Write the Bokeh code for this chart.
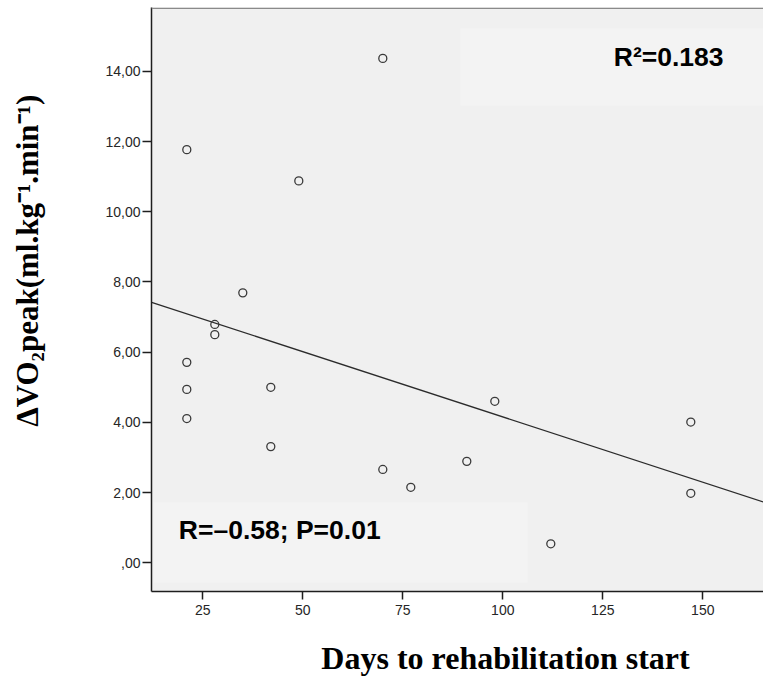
import math
from bokeh.plotting import figure
from bokeh.models import FixedTicker, Label, BoxAnnotation, Span, Range1d
from bokeh.embed import file_html
from bokeh.resources import INLINE

# ---- data ----
days = [21, 21, 21, 21, 28, 28, 35, 42, 42, 49, 70, 70, 77, 91, 98, 112, 147, 147]
delta_vo2 = [11.77, 5.71, 4.94, 4.11, 6.79, 6.50, 7.69, 5.00, 3.31, 10.88,
             14.37, 2.66, 2.15, 2.89, 4.60, 0.54, 4.01, 1.98]
fit_days = [12.2, 165.2]
fit_vo2 = [7.42, 1.73]
x_ticks = [25, 50, 75, 100, 125, 150]
y_ticks = [0, 2, 4, 6, 8, 10, 12, 14]
y_tick_labels = [",00", "2,00", "4,00", "6,00", "8,00", "10,00", "12,00", "14,00"]
r2_text = "R²=0.183"
r_text = "R=–0.58; P=0.01"
x_title = "Days to rehabilitation start"
y_title = "ΔVO₂peak(ml.kg⁻¹.min⁻¹)"

X0, X1 = 12.175, 165.175
Y0, Y1 = -0.818, 15.82
NBSP = "\u00a0"

p = figure(width=763, height=679, output_backend="svg", toolbar_location=None,
           x_range=Range1d(X0, X1), y_range=Range1d(Y0, Y1),
           min_border_left=151, min_border_right=0, min_border_top=7,
           min_border_bottom=88)

p.background_fill_color = "#F0F0F0"
p.border_fill_color = "white"
p.outline_line_color = None
p.xgrid.visible = False
p.ygrid.visible = False

# light annotation boxes
p.add_layout(BoxAnnotation(left=89.4, right=X1, top=15.22, bottom=13.03,
                           fill_color="#F3F3F3", fill_alpha=1.0,
                           line_color=None, level="underlay"))
p.add_layout(BoxAnnotation(left=12.7, right=106.2, top=1.72, bottom=-0.56,
                           fill_color="#F3F3F3", fill_alpha=1.0,
                           line_color=None, level="underlay"))

# top frame line
p.add_layout(Span(location=15.80, dimension="width", line_color="#8a8a8a",
                  line_width=1.5))

for ax in (p.xaxis[0], p.yaxis[0]):
    ax.axis_line_color = "#1e1e1e"
    ax.axis_line_width = 1.5
    ax.major_tick_line_color = "#1e1e1e"
    ax.major_tick_line_width = 1.5
    ax.major_tick_in = 0
    ax.major_tick_out = 8
    ax.minor_tick_line_color = None
    ax.major_label_text_font = "Liberation Sans"
    ax.major_label_text_font_size = "14px"
    ax.major_label_text_color = "#262626"
    ax.axis_label_text_font = "Liberation Serif"
    ax.axis_label_text_font_style = "bold"
    ax.axis_label_text_color = "black"

p.xaxis.ticker = FixedTicker(ticks=x_ticks)
p.yaxis.ticker = FixedTicker(ticks=y_ticks)
p.yaxis.major_label_overrides = {t: s for t, s in zip(y_ticks, y_tick_labels)}
p.yaxis.major_tick_out = 9
p.yaxis.major_label_standoff = 2
p.xaxis.major_label_standoff = 5

# axis titles (leading no-break spaces shift them off the frame centre as in the reference)
p.xaxis.axis_label = NBSP * 12 + x_title
p.xaxis.axis_label_text_font_size = "32px"
p.xaxis.axis_label_standoff = 22
p.yaxis.axis_label = NBSP * 10 + y_title
p.yaxis.axis_label_text_font_size = "31px"
p.yaxis.axis_label_standoff = 57

p.line(fit_days, fit_vo2, line_color="#2b2b2b", line_width=1.3)
p.scatter(days, delta_vo2, marker="circle", size=8, fill_color=None,
          line_color="#3a3a3a", line_width=1.3)

p.add_layout(Label(x=127.75, y=14.40, text=r2_text, text_font="Liberation Sans",
                   text_font_style="bold", text_font_size="26.5px",
                   text_color="black", text_baseline="middle",
                   text_align="left"))
p.add_layout(Label(x=19.0, y=0.93, text=r_text, text_font="Liberation Sans",
                   text_font_style="bold", text_font_size="26.5px",
                   text_color="black", text_baseline="middle",
                   text_align="left"))

open("out.html", "w").write(file_html(p, INLINE))
